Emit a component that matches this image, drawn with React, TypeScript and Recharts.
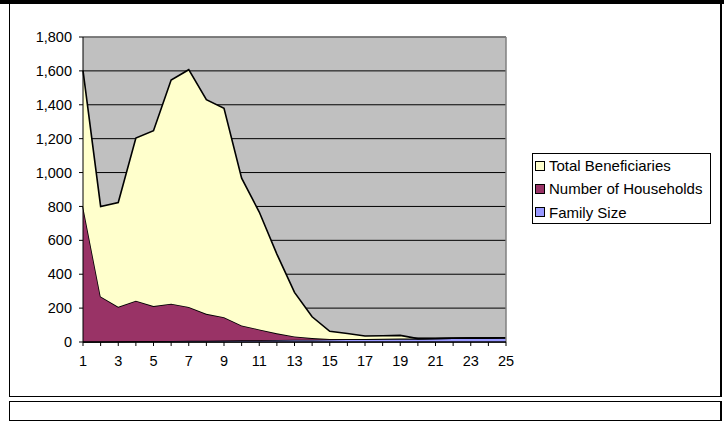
import React from 'react';
import { AreaChart, Area, XAxis, YAxis, CartesianGrid, Legend, ReferenceLine } from 'recharts';

const categories = [1, 2, 3, 4, 5, 6, 7, 8, 9, 10, 11, 12, 13, 14, 15, 16, 17, 18, 19, 20, 21, 22, 23, 24, 25];
const familySize = [1, 2, 3, 4, 5, 6, 7, 8, 9, 10, 11, 12, 13, 14, 15, 16, 17, 18, 19, 20, 21, 22, 23, 24, 25];
const households = [800, 266, 205, 240, 207, 220, 200, 158, 137, 87, 63, 39, 20, 9, 3, 2, 1, 1, 1, 0, 0, 0, 0, 0, 0];
const beneficiaries = [800, 532, 615, 960, 1035, 1320, 1400, 1264, 1233, 870, 693, 468, 260, 126, 45, 32, 17, 18, 19, 0, 0, 0, 0, 0, 0];
const yTicks = [0, 200, 400, 600, 800, 1000, 1200, 1400, 1600, 1800];

const seriesColors: Record<string, string> = {
  family: '#9999FF',
  households: '#993366',
  beneficiaries: '#FFFFCC',
};

const data = categories.map((c, i) => ({
  size: c,
  family: familySize[i],
  households: households[i],
  beneficiaries: beneficiaries[i],
}));

const FONT = '"Liberation Sans", Arial, Helvetica, sans-serif';
const FS = 14.5;

const XTick = (props: any) => {
  const { x, y, payload } = props;
  if (Number(payload.value) % 2 === 0) return <g />;
  return (
    <text x={x} y={y} dy="0.71em" textAnchor="middle" fontSize={FS} fontFamily={FONT} fill="#000">
      {payload.value}
    </text>
  );
};

const LegendContent = (props: any) => {
  const items = [...(props.payload || [])].reverse();
  return (
    <div
      style={{
        boxSizing: 'border-box',
        width: 179,
        height: 71,
        border: '1px solid #000',
        background: '#fff',
        fontFamily: FONT,
        fontSize: 15,
        color: '#000',
      }}
    >
      {items.map((it: any) => (
        <div key={it.value} style={{ display: 'flex', alignItems: 'center', height: 23.3, paddingLeft: 2 }}>
          <div
            style={{
              boxSizing: 'border-box',
              width: 10,
              height: 10,
              border: '1px solid #000',
              background: seriesColors[it.dataKey] || it.color,
              marginRight: 4,
            }}
          />
          <span style={{ whiteSpace: 'nowrap' }}>{it.value}</span>
        </div>
      ))}
    </div>
  );
};

export default function App() {
  return (
    <div style={{ position: 'absolute', left: 0, top: 0, width: 724, height: 428, background: '#fff', overflow: 'hidden' }}>
      <div style={{ position: 'absolute', left: 0, top: 0, width: 724, height: 3.5, background: '#000' }} />
      <div
        style={{
          position: 'absolute',
          left: 9,
          top: 3,
          width: 713,
          height: 394,
          boxSizing: 'border-box',
          borderLeft: '1px solid #000',
          borderBottom: '1.5px solid #000',
          borderRight: '2px solid #000',
        }}
      />
      <div
        style={{
          position: 'absolute',
          left: 9,
          top: 400.5,
          width: 713,
          height: 20,
          boxSizing: 'border-box',
          border: '1px solid #000',
          borderBottom: '1.5px solid #000',
          borderRight: '2px solid #000',
        }}
      />
      <div style={{ position: 'absolute', left: 0, top: 0 }}>
        <AreaChart
          width={724}
          height={428}
          data={data}
          margin={{ top: 37, right: 218, bottom: 56, left: 0 }}
        >
          <CartesianGrid vertical={false} stroke="#000" fill="#C0C0C0" fillOpacity={1} />
          <XAxis
            dataKey="size"
            interval={0}
            tick={<XTick />}
            tickSize={4}
            tickMargin={10}
            height={30}
            axisLine={{ stroke: '#000', strokeWidth: 1.5 }}
            tickLine={{ stroke: '#000' }}
          />
          <YAxis
            width={83}
            domain={[0, 1800]}
            ticks={yTicks}
            interval={0}
            tickFormatter={(v: number) => v.toLocaleString('en-US')}
            tickSize={4}
            tickMargin={7}
            axisLine={{ stroke: '#000' }}
            tickLine={{ stroke: '#000' }}
            tick={{ fontSize: FS, fill: '#000', fontFamily: FONT }}
          />
          <Area
            type="linear"
            dataKey="family"
            name="Family Size"
            stackId="1"
            stroke="#000"
            strokeWidth={1.6}
            fill={seriesColors.family}
            fillOpacity={1}
            isAnimationActive={false}
          />
          <Area
            type="linear"
            dataKey="households"
            name="Number of Households"
            stackId="1"
            stroke="#000"
            strokeWidth={1.6}
            fill={seriesColors.households}
            fillOpacity={1}
            isAnimationActive={false}
          />
          <Area
            type="linear"
            dataKey="beneficiaries"
            name="Total Beneficiaries"
            stackId="1"
            stroke="#000"
            strokeWidth={1.6}
            fill={seriesColors.beneficiaries}
            fillOpacity={1}
            isAnimationActive={false}
          />
          <ReferenceLine y={1800} stroke="#808080" strokeWidth={1.5} />
          <ReferenceLine x={25} stroke="#808080" strokeWidth={1.5} />
          <Legend
            layout="vertical"
            align="center"
            verticalAlign="middle"
            content={<LegendContent />}
            wrapperStyle={{ position: 'absolute', left: 532, top: 153, width: 179, height: 71 }}
          />
        </AreaChart>
      </div>
    </div>
  );
}
